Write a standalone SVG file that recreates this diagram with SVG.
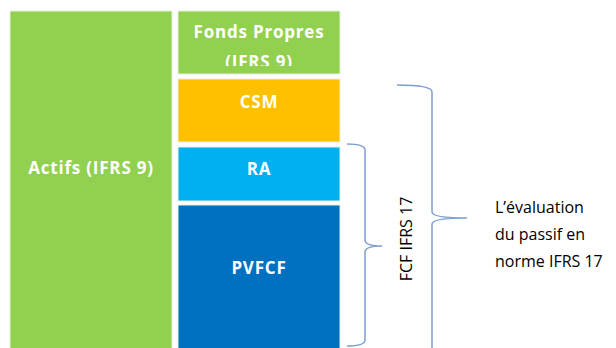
<svg xmlns="http://www.w3.org/2000/svg" width="616" height="348" viewBox="0 0 616 348">
<style>
.box{stroke:#e6f0e0;stroke-width:1}
.lbl{font-family:"Open Sans","Liberation Sans",sans-serif;font-weight:bold;font-size:17px;letter-spacing:0.8px;fill:#ffffff;text-anchor:middle}
.txt{font-family:"Open Sans","Liberation Sans",sans-serif;font-size:16px;fill:#000000}
.brace{fill:none;stroke:#7f9fcf;stroke-width:1.5}
</style>
<defs>
<clipPath id="fpclip"><rect x="178" y="11" width="162" height="55"/></clipPath>
</defs>
<rect width="616" height="348" fill="#ffffff"/>
<g id="actifs">
<rect class="box" x="10" y="11" width="162" height="340" fill="#92D050"/>
<text class="lbl" x="91" y="174">Actifs (IFRS 9)</text>
</g>
<g id="fonds-propres">
<rect class="box" x="178" y="11" width="162" height="63" fill="#92D050"/>
<g clip-path="url(#fpclip)">
<text class="lbl" x="259" y="38">Fonds Propres</text>
<text class="lbl" x="259" y="68">(IFRS 9)</text>
</g>
</g>
<g id="csm">
<rect class="box" x="178" y="79" width="162" height="63" fill="#FFC000"/>
<text class="lbl" x="259" y="108">CSM</text>
</g>
<g id="ra">
<rect class="box" x="178" y="147" width="162" height="54" fill="#00B0F0"/>
<text class="lbl" x="259" y="175">RA</text>
</g>
<g id="pvfcf">
<rect class="box" x="178" y="205" width="162" height="146" fill="#0070C0"/>
<text class="lbl" x="259" y="274">PVFCF</text>
</g>
<g id="connectors">
<path class="brace" d="M347,144 Q365,144 365,150 L365,240 Q365,246 382,246 Q365,246 365,252 L365,340 Q365,346 347,346"/>
<path class="brace" d="M397,85 Q432,85 432,92 L432,212 Q432,218 467,218 Q432,218 432,224 L432,350"/>
</g>
<g id="fcf-label">
<text class="txt" x="0" y="0" text-anchor="middle" transform="translate(412,239) rotate(-90)">FCF IFRS 17</text>
</g>
<g id="evaluation-label">
<text class="txt" x="495" y="213">L’évaluation</text>
<text class="txt" x="495" y="240">du passif en</text>
<text class="txt" x="495" y="267">norme IFRS 17</text>
</g>
</svg>
